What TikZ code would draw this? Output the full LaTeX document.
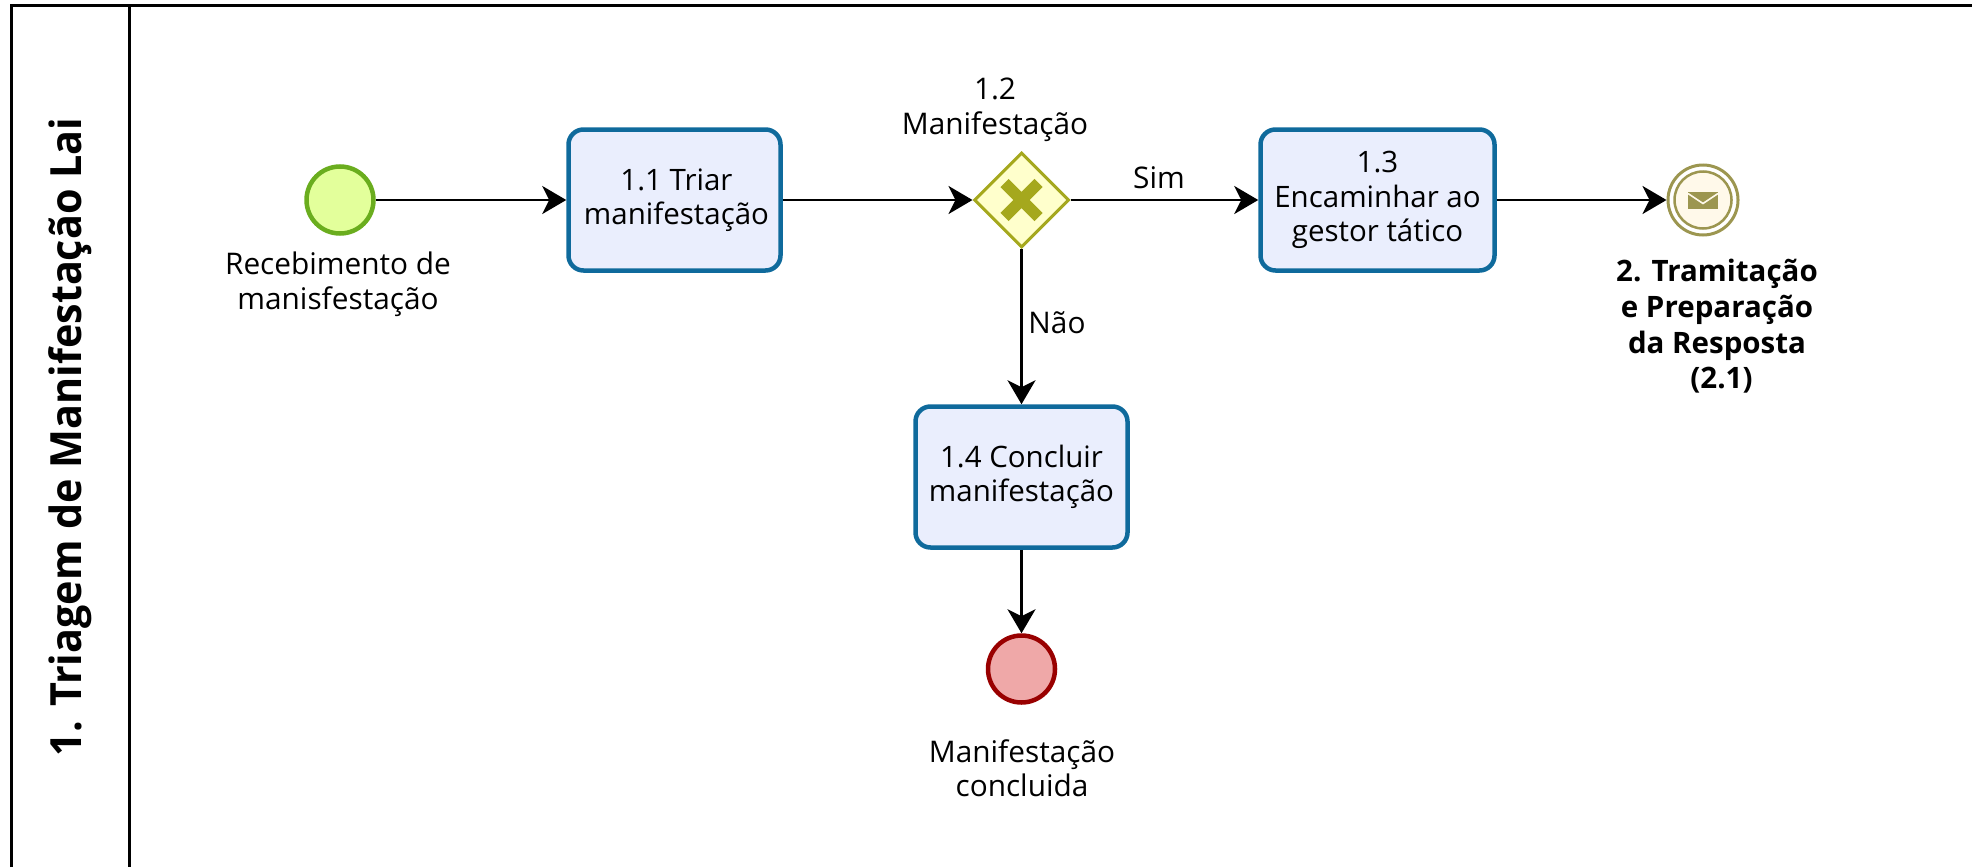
\documentclass[tikz,border=0pt]{standalone}
\usepackage{fontspec}
\setmainfont{Open Sans}
\usetikzlibrary{arrows.meta,shapes.geometric}
\definecolor{taskfill}{HTML}{EAEEFD}
\definecolor{taskline}{HTML}{0F6A9C}
\definecolor{startfill}{HTML}{E3FF9B}
\definecolor{startline}{HTML}{6AAD1E}
\definecolor{gwfill}{HTML}{FFFFCC}
\definecolor{gwline}{HTML}{A5A81D}
\definecolor{msgfill}{HTML}{FFF9EA}
\definecolor{msgline}{HTML}{9C9650}
\definecolor{endfill}{HTML}{EFA8A8}
\definecolor{endline}{HTML}{990000}
\tikzset{
  x=1pt,y=-1pt,
  task/.style={draw=taskline,fill=taskfill,line width=4.5pt,rounded corners=15pt,minimum width=212pt,minimum height=141pt,align=center,font=\fontsize{29.5}{34.5}\selectfont,inner sep=0pt},
  evstart/.style={circle,draw=startline,fill=startfill,line width=4.5pt,minimum size=67pt,inner sep=0pt},
  evend/.style={circle,draw=endline,fill=endfill,line width=4.5pt,minimum size=67pt,inner sep=0pt},
  evmsg/.style={circle,draw=msgline,fill=white,line width=3pt,minimum size=70pt,inner sep=0pt},
  evmsgin/.style={circle,draw=msgline,fill=msgfill,line width=2.5pt,minimum size=57pt,inner sep=0pt},
  gateway/.style={diamond,aspect=1,draw=gwline,fill=gwfill,line width=3pt,minimum size=95pt,inner sep=0pt},
  lbl/.style={align=center,font=\fontsize{29.8}{34.5}\selectfont,inner sep=0pt},
  boldlbl/.style={align=center,font=\bfseries\fontsize{29.5}{35.6}\selectfont,inner sep=0pt},
  flow/.style={draw=black,line width=2.8pt,-{Stealth[length=24pt,width=28pt,inset=7pt]}},
  frame/.style={draw=black,line width=3pt}
}
\begin{document}
\begin{tikzpicture}
\useasboundingbox (0,0) rectangle (1972,867);
\coordinate (tl) at (11,6);
\coordinate (tr) at (1972,6);
\coordinate (bl) at (11,867);
\coordinate (dt) at (129.5,6);
\coordinate (db) at (129.5,867);
\draw[frame] (bl) -- (tl) -- (tr);
\draw[frame] (dt) -- (db);
\node[rotate=90,font=\bfseries\fontsize{43}{50}\selectfont,inner sep=0pt] (pool) at (70,437) {\scalebox{0.96}[1]{1. Triagem de Manifestação Lai}};

\node[evstart] (start) at (340,200) {};
\node[task] (t11) at (674.5,200) {\hspace*{4pt}1.1 Triar\\\hspace*{4pt}manifestação};
\node[gateway] (gw) at (1021.5,200) {};
\node[task,minimum width=234pt] (t13) at (1377.5,200) {1.3\\Encaminhar ao\\gestor tático};
\node[evmsg] (msg) at (1703,200) {};
\node[evmsgin] (msgin) at (msg.center) {};
\node[task] (t14) at (1021.5,477) {1.4 Concluir\\manifestação};
\node[evend] (end) at (1021.5,669) {};

\draw[gwline,line width=11.5pt] (1004.5,183) -- (1038.5,217) (1038.5,183) -- (1004.5,217);
\fill[msgline] (1688,192) rectangle (1718,209);
\draw[msgfill,line width=1.6pt] (1688,193.5) -- (1703,203.5) -- (1718,193.5);

\draw[flow] (start) -- (t11);
\draw[flow] (t11) -- (gw);
\draw[flow] (gw) -- (t13);
\draw[flow] (t13) -- (msg);
\draw[flow] (gw) -- (t14);
\draw[flow] (t14) -- (end);

\node[lbl] (l1) at (338,284.5) {Recebimento de\\manisfestação};
\node[lbl] (l2) at (995,110) {1.2\\Manifestação};
\node[lbl] (l3) at (1159,178) {Sim};
\node[lbl] (l4) at (1057,323) {Não};
\node[lbl] (l5) at (1022,768) {Manifestação\\concluida};
\node[boldlbl] (l6) at (1717,326.5) {2. Tramitação\\e Preparação\\da Resposta\\\hspace*{9pt}(2.1)};
\end{tikzpicture}
\end{document}
